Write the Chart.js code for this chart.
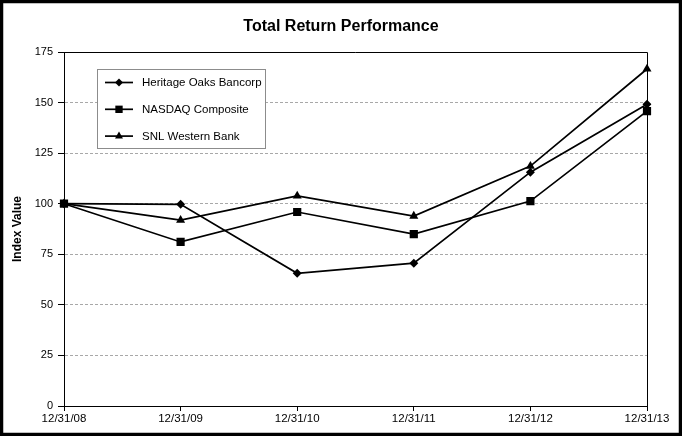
<!DOCTYPE html>
<html>
<head>
<meta charset="utf-8">
<script src="https://cdn.jsdelivr.net/npm/chart.js@4/dist/chart.umd.min.js"></script>
<style>
html,body{margin:0;padding:0;background:#fff;}
#wrap{width:682px;height:436px;position:relative;}
</style>
</head>
<body>
<div id="wrap"><canvas id="c" width="682" height="436"></canvas></div>
<script>
const categories = ['12/31/08','12/31/09','12/31/10','12/31/11','12/31/12','12/31/13'];
const heritage = [100, 99.7, 65.6, 70.6, 115.6, 149.2];
const nasdaq = [100, 81.1, 95.9, 85.0, 101.3, 145.8];
const snlWestern = [100, 91.9, 103.9, 93.9, 118.6, 166.6];
const seriesNames = ['Heritage Oaks Bancorp','NASDAQ Composite','SNL Western Bank'];
const yTicks = [0,25,50,75,100,125,150,175];
const chartTitle = 'Total Return Performance';
const yTitle = 'Index Value';

const FONT = '"Liberation Sans", Arial, sans-serif';

function drawMarker(ctx, style, x, y, r){
  ctx.beginPath();
  if(style==='rectRot'){
    ctx.moveTo(x, y-r); ctx.lineTo(x+r, y); ctx.lineTo(x, y+r); ctx.lineTo(x-r, y);
  } else if(style==='rect'){
    const s = r*Math.SQRT1_2;
    ctx.rect(x-s, y-s, 2*s, 2*s);
  } else if(style==='triangle'){
    ctx.moveTo(x, y-r);
    ctx.lineTo(x + r*Math.sin(Math.PI/3), y + r*0.5);
    ctx.lineTo(x - r*Math.sin(Math.PI/3), y + r*0.5);
  }
  ctx.closePath();
  ctx.fill();
}

const decor = {
  id:'decor',
  beforeDraw(chart){
    const ctx = chart.ctx;
    ctx.save();
    ctx.fillStyle='#fff';
    ctx.fillRect(0,0,chart.width,chart.height);
    ctx.restore();
  },
  afterDraw(chart){
    const ctx = chart.ctx, a = chart.chartArea;
    ctx.save();
    ctx.strokeStyle='#000'; ctx.lineWidth=1;
    ctx.beginPath();
    ctx.moveTo(a.left, a.top+0.5); ctx.lineTo(a.right+0.5, a.top+0.5); ctx.lineTo(a.right+0.5, a.bottom);
    ctx.stroke();
    ctx.fillStyle='#000';
    ctx.font='bold 16px '+FONT;
    ctx.textAlign='center'; ctx.textBaseline='middle';
    ctx.fillText(chartTitle, 341, 27);
    const lx=97, ly=69, lw=168, lh=79;
    ctx.fillStyle='#fff';
    ctx.fillRect(lx,ly,lw,lh);
    ctx.strokeStyle='#8c8c8c'; ctx.lineWidth=1;
    ctx.strokeRect(lx+0.5,ly+0.5,lw,lh);
    ctx.font='11.5px '+FONT;
    ctx.textAlign='left';
    chart.data.datasets.forEach((ds,i)=>{
      const y = 82.5 + i*26.8;
      ctx.strokeStyle='#000'; ctx.lineWidth=1.7;
      ctx.beginPath(); ctx.moveTo(105,y); ctx.lineTo(133,y); ctx.stroke();
      ctx.fillStyle='#000';
      drawMarker(ctx, ds.pointStyle, 119, y, ds.pointStyle==='rect'?5.2:(ds.pointStyle==='triangle'?4.6:4));
      ctx.fillText(ds.label, 142, y+0.5);
    });
    ctx.strokeStyle='#000'; ctx.lineWidth=3.5;
    ctx.strokeRect(1.5,1.5,chart.width-3,chart.height-3);
    ctx.restore();
  }
};

new Chart(document.getElementById('c'), {
  type:'line',
  data:{
    labels: categories,
    datasets:[
      {label:seriesNames[0], data:heritage, pointStyle:'rectRot', pointRadius:4.5},
      {label:seriesNames[1], data:nasdaq, pointStyle:'rect', pointRadius:5.8},
      {label:seriesNames[2], data:snlWestern, pointStyle:'triangle', pointRadius:5.2}
    ].map(d=>Object.assign({borderColor:'#000', backgroundColor:'#000', pointBackgroundColor:'#000', pointBorderColor:'#000', borderWidth:1.7, pointBorderWidth:0, tension:0, pointHoverRadius:d.pointRadius}, d))
  },
  options:{
    responsive:false,
    animation:false,
    devicePixelRatio:1,
    layout:{padding:{left:6, right:35, top:52, bottom:0}},
    plugins:{legend:{display:false}, title:{display:false}, tooltip:{enabled:false}},
    scales:{
      x:{
        type:'category',
        offset:false,
        grid:{drawOnChartArea:false, drawTicks:true, tickLength:5, tickColor:'#000', tickWidth:1},
        border:{color:'#000', width:1},
        ticks:{color:'#000', font:{family:FONT, size:11.5}, padding:1, maxRotation:0, autoSkip:false},
        afterFit(s){ s.height = 30; }
      },
      y:{
        min:0, max:175,
        afterBuildTicks(s){ s.ticks = yTicks.map(v=>({value:v})); },
        grid:{
          color:(c)=> (c.tick && (c.tick.value===0 || c.tick.value===175)) ? 'rgba(0,0,0,0)' : '#a8a8a8',
          lineWidth:1,
          tickLength:6, tickColor:'#000', tickBorderDash:[], tickWidth:1
        },
        border:{color:'#000', width:1, dash:[3,2]},
        ticks:{color:'#000', font:{family:FONT, size:11}, padding:5},
        title:{display:true, text:yTitle, color:'#000', font:{family:FONT, size:12, weight:'bold'}, padding:{top:4, bottom:0}},
        afterFit(s){ s.width = 58; }
      }
    }
  },
  plugins:[decor]
});
</script>
</body>
</html>
